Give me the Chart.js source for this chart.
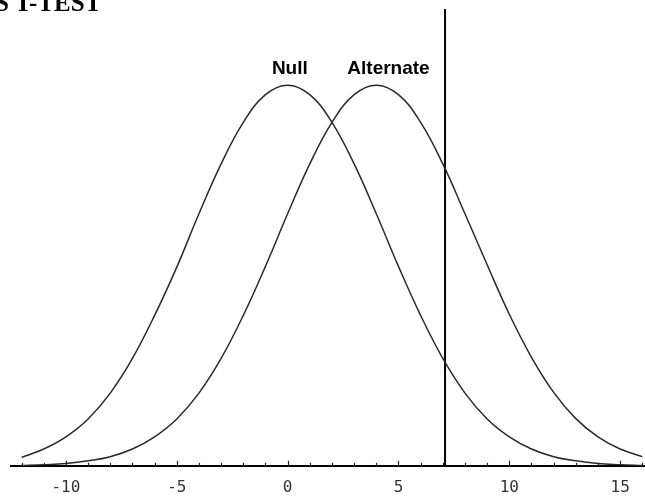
<!DOCTYPE html>
<html>
<head>
<meta charset="utf-8">
<script src="https://cdn.jsdelivr.net/npm/chart.js@4.4.1/dist/chart.umd.min.js"></script>
<style>
  html, body { margin: 0; padding: 0; background: #fff; overflow: hidden; }
  #wrap { position: relative; width: 645px; height: 498px; }
  #titulo {
    position: absolute; left: -5px; top: -11px;
    font: bold 25px "Liberation Serif", "Times New Roman", serif;
    color: #000; white-space: nowrap;
  }
</style>
</head>
<body>
<div id="wrap">
  <canvas id="chartTTest" width="645" height="498"></canvas>
  <div id="titulo">S T-TEST</div>
</div>
<script>
// valores (altura relativa, pico = 1)
const puntosX = [-12, -11, -10, -9, -8, -7, -6, -5, -4, -3, -2, -1, 0, 1, 2, 3, 4, 5, 6, 7, 8, 9, 10, 11, 12, 13, 14, 15, 16];
const curvaNull = [0.022, 0.044, 0.076, 0.123, 0.191, 0.282, 0.395, 0.522, 0.662, 0.793, 0.902, 0.975, 1.0, 0.975, 0.902, 0.793, 0.662, 0.524, 0.395, 0.282, 0.191, 0.123, 0.076, 0.044, 0.024, 0.013, 0.006, 0.003, 0.001];
const curvaAlternate = [0.001, 0.003, 0.006, 0.013, 0.024, 0.044, 0.076, 0.123, 0.191, 0.282, 0.395, 0.524, 0.662, 0.793, 0.902, 0.975, 1.0, 0.975, 0.902, 0.793, 0.662, 0.528, 0.398, 0.285, 0.193, 0.124, 0.076, 0.044, 0.024];
const valorCritico = 7.1;
const ticksX = [-10, -5, 0, 5, 10, 15];
const etiquetas = ["Null", "Alternate"];
const etiquetasX = [0.1, 4.55];
const etiquetasY = [1.03, 1.03];

function serie(ys) {
  return puntosX.map((x, i) => ({ x, y: ys[i] }));
}

const marcasEjes = {
  id: "marcasEjes",
  afterDatasetsDraw(chart) {
    const { ctx, scales } = chart;
    const sx = scales.x;
    const base = scales.y.getPixelForValue(0);
    ctx.save();
    ctx.strokeStyle = "#222";
    ctx.lineWidth = 1.2;
    for (let v = Math.ceil(sx.min); v <= sx.max; v++) {
      const px = Math.round(sx.getPixelForValue(v)) + 0.5;
      const largo = v % 5 === 0 ? 5 : 3;
      ctx.beginPath();
      ctx.moveTo(px, base);
      ctx.lineTo(px, base - largo);
      ctx.stroke();
    }
    ctx.fillStyle = "#000";
    ctx.font = 'bold 19px "Liberation Sans", Arial, sans-serif';
    ctx.textAlign = "center";
    ctx.textBaseline = "alphabetic";
    etiquetas.forEach((txt, i) => {
      ctx.fillText(txt, sx.getPixelForValue(etiquetasX[i]), scales.y.getPixelForValue(etiquetasY[i]));
    });
    ctx.restore();
  }
};

const lineaCurva = { borderColor: "#2a2a2a", borderWidth: 1.5, pointRadius: 0, tension: 0.4, fill: false };

new Chart(document.getElementById("chartTTest"), {
  type: "line",
  data: {
    datasets: [
      { label: "Null", data: serie(curvaNull), ...lineaCurva },
      { label: "Alternate", data: serie(curvaAlternate), ...lineaCurva },
      { label: "Critico", data: [{ x: valorCritico, y: 0 }, { x: valorCritico, y: 1.2 }], borderColor: "#000", borderWidth: 2, pointRadius: 0, fill: false }
    ]
  },
  options: {
    responsive: false,
    animation: false,
    layout: { padding: { top: 9, left: 10.5, right: 0, bottom: -11 } },
    plugins: { legend: { display: false }, tooltip: { enabled: false } },
    scales: {
      x: {
        type: "linear",
        min: -12.5,
        max: 16.12,
        afterBuildTicks: (scale) => { scale.ticks = ticksX.map((v) => ({ value: v })); },
        grid: { display: false, drawTicks: false },
        border: { display: true, color: "#000", width: 2 },
        ticks: {
          padding: 12,
          color: "#333",
          font: { family: '"DejaVu Sans Mono", monospace', size: 16 },
          maxRotation: 0,
          autoSkip: false
        }
      },
      y: {
        display: false,
        min: 0,
        max: 1.2
      }
    }
  },
  plugins: [marcasEjes]
});
</script>
</body>
</html>
